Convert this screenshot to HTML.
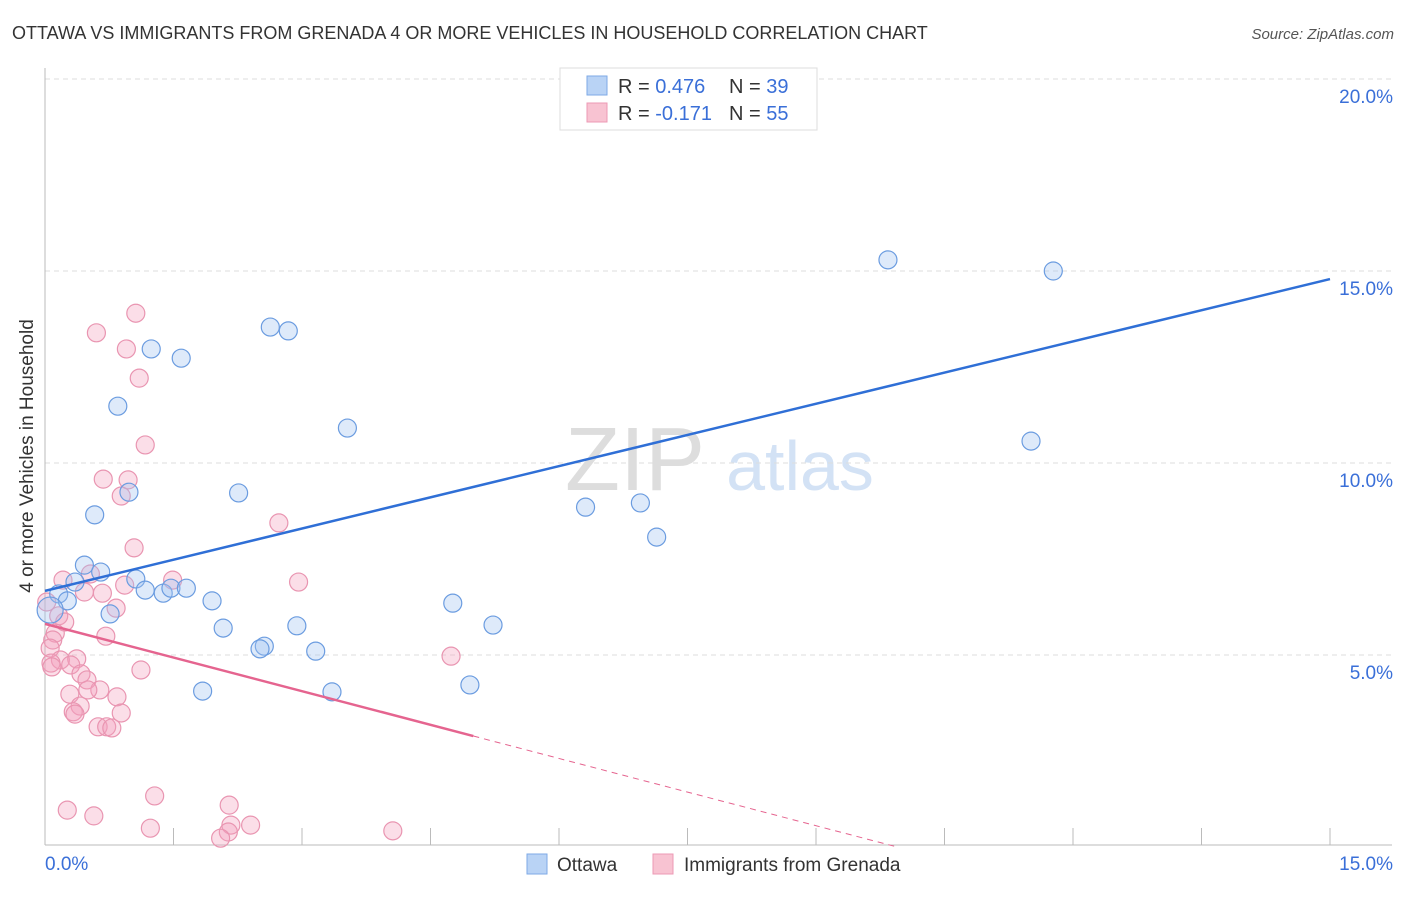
<!DOCTYPE html>
<html><head><meta charset="utf-8"><style>
body{margin:0;background:#fff;font-family:"Liberation Sans",sans-serif;}
svg text{font-family:"Liberation Sans",sans-serif;}
</style></head><body>
<svg id="chart" width="1406" height="892" xmlns="http://www.w3.org/2000/svg">
<text x="12" y="39" font-size="18" fill="#333">OTTAWA VS IMMIGRANTS FROM GRENADA 4 OR MORE VEHICLES IN HOUSEHOLD CORRELATION CHART</text>
<text x="1394" y="39" font-size="15" fill="#555" text-anchor="end" font-style="italic">Source: ZipAtlas.com</text>
<text x="33" y="456" font-size="19" fill="#333" text-anchor="middle" transform="rotate(-90 33 456)">4 or more Vehicles in Household</text>
<g><text x="635" y="490" font-size="90" fill="#ddd" text-anchor="middle" font-family="Liberation Serif,serif">ZIP</text><text x="800" y="490" font-size="70" fill="#d3e2f5" text-anchor="middle">atlas</text></g>
<g id="grid"></g><g id="axes"></g><g id="marks"></g>
<g>
<rect x="560" y="68" width="257" height="62" fill="#fff" stroke="#ddd"/>
<rect x="587" y="76" width="20" height="19" fill="#b9d3f5" stroke="#7ea9e6"/>
<rect x="587" y="103" width="20" height="19" fill="#f8c3d2" stroke="#ec9ab4"/>
<text x="618" y="93" font-size="20" fill="#333">R = <tspan fill="#3a6fd8">0.476</tspan><tspan x="729">N = </tspan><tspan fill="#3a6fd8">39</tspan></text>
<text x="618" y="120" font-size="20" fill="#333">R = <tspan fill="#3a6fd8">-0.171</tspan><tspan x="729">N = </tspan><tspan fill="#3a6fd8">55</tspan></text>
</g>
<g>
<rect x="527" y="854" width="20" height="20" fill="#b9d3f5" stroke="#7ea9e6"/>
<text x="557" y="871" font-size="19" fill="#333">Ottawa</text>
<rect x="653" y="854" width="20" height="20" fill="#f8c3d2" stroke="#ec9ab4"/>
<text x="684" y="871" font-size="19" fill="#333">Immigrants from Grenada</text>
</g>
</svg>
<script>
const yTicks=[5,10,15,20];
const yTickLabels=["5.0%","10.0%","15.0%","20.0%"];
const xTicks=[0,1.5,3,4.5,6,7.5,9,10.5,12,13.5,15];
const blueX=[8.35,9.84,11.77,11.51,2.63,2.84,1.24,1.59,0.85,3.53,0.98,2.26,0.58,6.31,6.95,7.14,0.46,0.65,0.35,1.06,1.17,1.38,1.47,1.65,0.16,0.26,1.95,0.76,4.76,2.08,2.94,5.23,2.56,2.51,3.16,1.84,3.35,4.96,0.06];
const blueY=[19.5,15.29,15.0,10.57,13.54,13.44,12.97,12.73,11.48,10.91,9.24,9.22,8.65,8.85,8.96,8.07,7.34,7.16,6.9,6.98,6.69,6.61,6.74,6.74,6.59,6.41,6.41,6.07,6.35,5.70,5.76,5.78,5.23,5.16,5.10,4.06,4.04,4.22,6.17];
const pinkX=[1.06,0.60,0.95,1.10,1.17,0.68,0.97,0.89,2.73,1.04,0.21,0.53,1.49,0.93,2.96,0.67,0.46,0.83,0.16,0.23,0.71,0.12,0.09,0.06,0.18,0.37,0.07,0.08,0.30,1.12,4.74,0.42,0.49,0.29,0.64,0.50,0.84,0.41,0.33,0.35,0.89,0.62,0.72,0.78,0.26,0.57,1.28,1.23,2.15,2.17,2.40,2.14,2.05,4.06,0.02];
const pinkY=[13.9,13.39,12.97,12.21,10.47,9.58,9.56,9.14,8.44,7.79,6.95,7.11,6.95,6.82,6.90,6.61,6.64,6.22,6.02,5.86,5.49,5.57,5.39,5.18,4.87,4.90,4.79,4.69,4.74,4.61,4.97,4.51,4.35,3.98,4.09,4.09,3.91,3.67,3.52,3.46,3.49,3.13,3.13,3.10,0.96,0.81,1.33,0.49,1.09,0.57,0.57,0.39,0.23,0.42,6.38];
const blueTrend=[6.67,14.79];
const pinkTrend=[5.81,-0.584];
const X=v=>45+v/15*1285, Y=v=>847-v*38.4;
const NS="http://www.w3.org/2000/svg";
function mk(tag,attrs,parent){const e=document.createElementNS(NS,tag);for(const k in attrs)e.setAttribute(k,attrs[k]);document.getElementById(parent).appendChild(e);return e;}
yTicks.forEach((t,i)=>{
 const g=mk('line',{x1:45,x2:1392,y1:Y(t),y2:Y(t),stroke:'#ddd','stroke-dasharray':'5,4'},'grid');
 
 
 const l=mk('text',{x:1393,y:Y(t)+24,'font-size':19,fill:'#3a6fd8','text-anchor':'end'},'axes');
 l.textContent=yTickLabels[i];
 
 
});
const xa=mk('line',{x1:45,x2:1392,y1:845,y2:845,stroke:'#bbb'},'axes');


const ya=mk('line',{x1:45,x2:45,y1:68,y2:845,stroke:'#bbb'},'axes');


xTicks.forEach(t=>{
 const k=mk('line',{x1:X(t),x2:X(t),y1:828,y2:845,stroke:'#bbb'},'axes');
 
 
});
const xl0=mk('text',{x:45,y:870,'font-size':19,fill:'#3a6fd8'},'axes');xl0.textContent="0.0%";


const xl1=mk('text',{x:1393,y:870,'font-size':19,fill:'#3a6fd8','text-anchor':'end'},'axes');xl1.textContent="15.0%";


pinkX.forEach((x,i)=>{
 const c=mk('circle',{cx:X(x),cy:Y(pinkY[i]),r:9,fill:'rgba(244,160,188,0.35)',stroke:'#e995b1','stroke-width':1.2},'marks');
 
 
});
blueX.forEach((x,i)=>{
 const c=mk('circle',{cx:X(x),cy:Y(blueY[i]),r:i==38?13:9,fill:'rgba(160,196,240,0.35)',stroke:'#6b9ce0','stroke-width':1.2},'marks');
 
 
});
const bl=mk('line',{x1:X(0),y1:Y(blueTrend[0]),x2:X(15),y2:Y(blueTrend[1]),stroke:'#2f6fd6','stroke-width':2.5},'marks');


const pe=5, pz=-pinkTrend[0]/pinkTrend[1];
const pl=mk('line',{x1:X(0),y1:Y(pinkTrend[0]),x2:X(pe),y2:Y(pinkTrend[0]+pinkTrend[1]*pe),stroke:'#e5648f','stroke-width':2.5},'marks');


const pd=mk('line',{x1:X(pe),y1:Y(pinkTrend[0]+pinkTrend[1]*pe),x2:X(pz),y2:Y(0),stroke:'#e5648f','stroke-width':1,'stroke-dasharray':'6,5'},'marks');


</script>
</body></html>
